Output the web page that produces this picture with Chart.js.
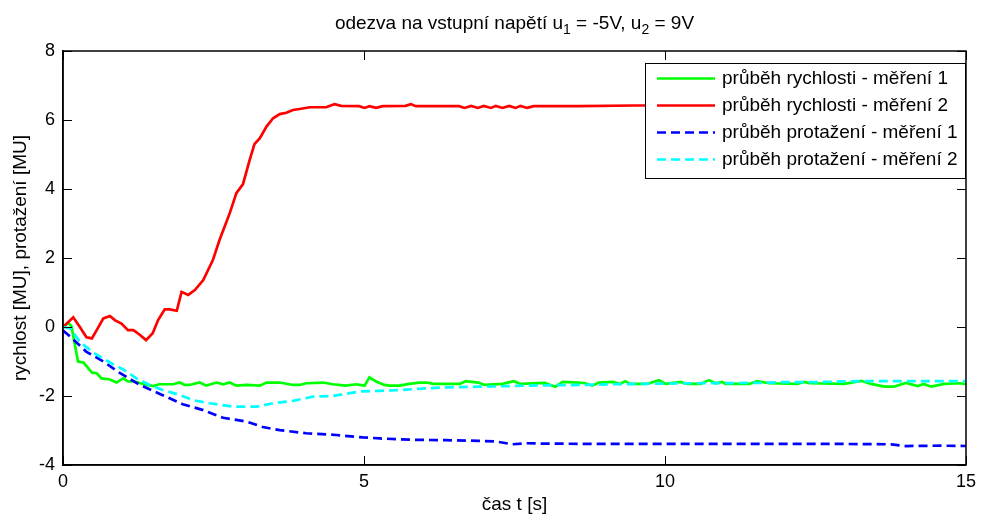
<!DOCTYPE html>
<html>
<head>
<meta charset="utf-8">
<script src="https://cdn.jsdelivr.net/npm/chart.js@4"></script>
<style>
  body { margin: 0; background: #fff; }
  #wrap { width: 982px; height: 520px; }
</style>
</head>
<body>
<div id="wrap"><canvas id="graf"></canvas></div>
<script>
// hodnoty: [cas t (s), hodnota (MU)]
const rychlost1 = [[0,0],[0.09,0.12],[0.14,0.02],[0.25,-1.0],[0.34,-1.03],[0.48,-1.32],[0.56,-1.34],[0.64,-1.49],[0.78,-1.52],[0.89,-1.61],[1.0,-1.49],[1.08,-1.58],[1.19,-1.58],[1.33,-1.65],[1.5,-1.71],[1.6,-1.66],[1.83,-1.66],[1.94,-1.61],[2.02,-1.68],[2.1,-1.68],[2.27,-1.61],[2.38,-1.7],[2.55,-1.61],[2.66,-1.66],[2.77,-1.61],[2.88,-1.7],[3.05,-1.68],[3.27,-1.7],[3.38,-1.61],[3.6,-1.61],[3.82,-1.68],[3.93,-1.68],[4.04,-1.63],[4.32,-1.61],[4.48,-1.66],[4.7,-1.7],[4.87,-1.66],[5.01,-1.7],[5.09,-1.46],[5.2,-1.58],[5.34,-1.68],[5.42,-1.7],[5.59,-1.7],[5.75,-1.65],[5.92,-1.61],[6.04,-1.61],[6.15,-1.65],[6.59,-1.65],[6.69,-1.57],[6.9,-1.61],[7.0,-1.68],[7.3,-1.65],[7.49,-1.57],[7.6,-1.65],[8.0,-1.62],[8.18,-1.73],[8.3,-1.59],[8.56,-1.61],[8.68,-1.63],[8.79,-1.7],[8.9,-1.61],[9.14,-1.59],[9.25,-1.65],[9.34,-1.57],[9.42,-1.65],[9.7,-1.65],[9.9,-1.54],[10.01,-1.65],[10.26,-1.59],[10.37,-1.65],[10.59,-1.65],[10.73,-1.54],[10.84,-1.63],[10.95,-1.59],[11.0,-1.65],[11.4,-1.65],[11.53,-1.57],[11.73,-1.63],[12.2,-1.65],[12.31,-1.59],[12.4,-1.63],[12.98,-1.65],[13.26,-1.56],[13.42,-1.65],[13.65,-1.73],[13.8,-1.73],[14.0,-1.62],[14.2,-1.71],[14.3,-1.65],[14.42,-1.73],[14.64,-1.65],[14.9,-1.63],[15,-1.66]];

const rychlost2 = [[0,0],[0.17,0.28],[0.28,0.0],[0.39,-0.3],[0.48,-0.33],[0.56,-0.09],[0.67,0.25],[0.78,0.32],[0.86,0.2],[0.97,0.1],[1.08,-0.09],[1.17,-0.09],[1.28,-0.23],[1.38,-0.38],[1.49,-0.18],[1.58,0.2],[1.69,0.51],[1.77,0.51],[1.89,0.47],[1.97,1.02],[2.08,0.93],[2.19,1.07],[2.33,1.36],[2.49,1.94],[2.6,2.52],[2.77,3.3],[2.88,3.88],[2.99,4.14],[3.1,4.84],[3.18,5.3],[3.27,5.47],[3.38,5.81],[3.49,6.05],[3.6,6.17],[3.71,6.21],[3.82,6.29],[3.93,6.32],[4.1,6.37],[4.37,6.37],[4.51,6.46],[4.62,6.41],[4.92,6.4],[5.01,6.35],[5.09,6.4],[5.2,6.35],[5.31,6.4],[5.69,6.41],[5.78,6.46],[5.86,6.4],[6.58,6.4],[6.67,6.35],[6.78,6.41],[6.89,6.35],[6.99,6.41],[7.11,6.35],[7.19,6.41],[7.3,6.35],[7.41,6.41],[7.52,6.35],[7.6,6.41],[7.71,6.35],[7.82,6.4],[8.57,6.4],[9.5,6.42],[10.5,6.42],[11.5,6.43],[12.5,6.42],[13.5,6.43],[14.5,6.44],[15,6.46]];

const protazeni1 = [[0,-0.1],[0.12,-0.28],[0.39,-0.72],[0.67,-1.0],[0.95,-1.34],[1.28,-1.68],[1.61,-1.94],[1.99,-2.24],[2.33,-2.41],[2.66,-2.63],[3.05,-2.74],[3.32,-2.9],[3.6,-2.99],[4.04,-3.08],[4.54,-3.13],[4.98,-3.2],[5.26,-3.23],[5.54,-3.25],[5.8,-3.27],[6.36,-3.28],[6.9,-3.3],[7.2,-3.32],[7.46,-3.4],[7.7,-3.37],[8.0,-3.38],[9,-3.39],[10,-3.39],[11,-3.39],[12,-3.39],[13,-3.39],[13.76,-3.4],[14.0,-3.45],[14.6,-3.44],[15,-3.45]];

const protazeni2 = [[0,0],[0.12,-0.04],[0.28,-0.43],[0.5,-0.74],[0.78,-1.03],[1.0,-1.23],[1.22,-1.49],[1.44,-1.68],[1.66,-1.83],[1.94,-1.97],[2.16,-2.12],[2.44,-2.21],[2.83,-2.31],[3.21,-2.31],[3.49,-2.21],[3.82,-2.14],[4.15,-2.02],[4.48,-2.0],[4.92,-1.87],[5.26,-1.85],[5.59,-1.83],[5.92,-1.79],[6.36,-1.75],[6.9,-1.73],[7.46,-1.71],[8.0,-1.69],[8.56,-1.68],[9.14,-1.66],[9.9,-1.64],[10.5,-1.63],[11.6,-1.62],[11.9,-1.6],[12.4,-1.6],[13.26,-1.57],[14,-1.57],[15,-1.57]];

const popisky = ["průběh rychlosti - měření 1", "průběh rychlosti - měření 2", "průběh protažení - měření 1", "průběh protažení - měření 2"];
const xTicks = [0, 5, 10, 15];
const yTicks = [-4, -2, 0, 2, 4, 6, 8];

const PISMO = "'Liberation Sans', Arial, sans-serif";
const VELIKOST = 19;

function body(arr) {
  return arr.map(p => ({ x: p[0], y: p[1] }));
}

// titulek s dolnimi indexy
const titulekPlugin = {
  id: 'titulek',
  afterDraw(chart) {
    const ctx = chart.ctx;
    const casti = [
      ["odezva na vstupní napětí u", false], ["1", true], [" = -5V, u", false], ["2", true], [" = 9V", false]
    ];
    ctx.save();
    ctx.fillStyle = '#000';
    ctx.textBaseline = 'alphabetic';
    let sirka = 0;
    casti.forEach(c => {
      ctx.font = (c[1] ? 14 : VELIKOST) + 'px ' + PISMO;
      sirka += ctx.measureText(c[0]).width;
    });
    const a = chart.chartArea;
    let x = (a.left + a.right) / 2 - sirka / 2;
    casti.forEach(c => {
      ctx.font = (c[1] ? 14 : VELIKOST) + 'px ' + PISMO;
      ctx.fillText(c[0], x, c[1] ? 34 : 29);
      x += ctx.measureText(c[0]).width;
    });
    ctx.restore();
  }
};

// ramecek a tiky dovnitr (jako v matlabu)
const ramecekPlugin = {
  id: 'ramecek',
  afterDatasetsDraw(chart) {
    const ctx = chart.ctx;
    const a = chart.chartArea;
    const sx = chart.scales.x, sy = chart.scales.y;
    const L = 9;
    ctx.save();
    ctx.strokeStyle = '#000';
    ctx.lineWidth = 1;
    ctx.beginPath();
    xTicks.forEach(t => {
      const px = Math.round(sx.getPixelForValue(t)) + 0.5;
      ctx.moveTo(px, a.bottom); ctx.lineTo(px, a.bottom - L);
      ctx.moveTo(px, a.top); ctx.lineTo(px, a.top + L);
    });
    yTicks.forEach(t => {
      const py = Math.round(sy.getPixelForValue(t)) + 0.5;
      ctx.moveTo(a.left, py); ctx.lineTo(a.left + L, py);
      ctx.moveTo(a.right, py); ctx.lineTo(a.right - L, py);
    });
    ctx.stroke();
    ctx.lineWidth = 1.5;
    ctx.strokeRect(a.left, a.top, a.right - a.left, a.bottom - a.top);
    ctx.restore();
  }
};

// legenda uvnitr grafu vpravo nahore
const legendaPlugin = {
  id: 'legenda',
  afterDraw(chart) {
    const ctx = chart.ctx;
    const bx = 645, by = 63, bw = 320, bh = 115;
    ctx.save();
    ctx.fillStyle = '#fff';
    ctx.fillRect(bx, by, bw, bh);
    ctx.strokeStyle = '#000';
    ctx.lineWidth = 1;
    ctx.strokeRect(bx + 0.5, by + 0.5, bw, bh);
    ctx.font = VELIKOST + 'px ' + PISMO;
    ctx.textBaseline = 'middle';
    chart.data.datasets.forEach((ds, i) => {
      const y = 78.5 + i * 27;
      ctx.strokeStyle = ds.borderColor;
      ctx.lineWidth = ds.borderWidth;
      ctx.setLineDash(ds.borderDash || []);
      ctx.beginPath();
      ctx.moveTo(657, y); ctx.lineTo(715, y);
      ctx.stroke();
      ctx.setLineDash([]);
      ctx.fillStyle = '#000';
      ctx.fillText(ds.label, 722, y);
    });
    ctx.restore();
  }
};

const datasets = [
  { label: popisky[0], data: body(rychlost1), borderColor: '#00ff00', borderWidth: 2.7, order: 4 },
  { label: popisky[1], data: body(rychlost2), borderColor: '#ff0000', borderWidth: 2.7, order: 3 },
  { label: popisky[2], data: body(protazeni1), borderColor: '#0000ff', borderWidth: 2.7, borderDash: [9, 5], order: 2 },
  { label: popisky[3], data: body(protazeni2), borderColor: '#00ffff', borderWidth: 2.7, borderDash: [9, 5], order: 1 }
];

new Chart(document.getElementById('graf'), {
  type: 'line',
  data: { datasets: datasets },
  options: {
    responsive: true,
    maintainAspectRatio: false,
    animation: false,
    events: [],
    elements: { point: { radius: 0 }, line: { tension: 0 } },
    layout: { padding: { top: 51, right: 14, left: 0, bottom: 0 } },
    plugins: { legend: { display: false }, tooltip: { enabled: false }, title: { display: false } },
    scales: {
      x: {
        type: 'linear',
        min: 0, max: 15,
        afterFit(s) { s.height = 55; },
        afterBuildTicks(s) { s.ticks = xTicks.map(v => ({ value: v })); },
        grid: { drawOnChartArea: false, drawTicks: false },
        border: { display: true, color: '#000', width: 1.5 },
        ticks: { color: '#000', padding: 6, maxRotation: 0, font: { family: PISMO, size: 18 } },
        title: { display: true, text: 'čas t [s]', color: '#000', padding: { top: 0, bottom: 4 }, font: { family: PISMO, size: VELIKOST } }
      },
      y: {
        min: -4, max: 8,
        afterFit(s) { s.width = 63; },
        afterBuildTicks(s) { s.ticks = yTicks.map(v => ({ value: v })); },
        grid: { drawOnChartArea: false, drawTicks: false },
        border: { display: true, color: '#000', width: 1.5 },
        ticks: { color: '#000', padding: 8, font: { family: PISMO, size: 18 } },
        title: { display: true, text: 'rychlost [MU], protažení [MU]', color: '#000', padding: { top: 9, bottom: 0 }, font: { family: PISMO, size: VELIKOST } }
      }
    }
  },
  plugins: [titulekPlugin, ramecekPlugin, legendaPlugin]
});
</script>
</body>
</html>
